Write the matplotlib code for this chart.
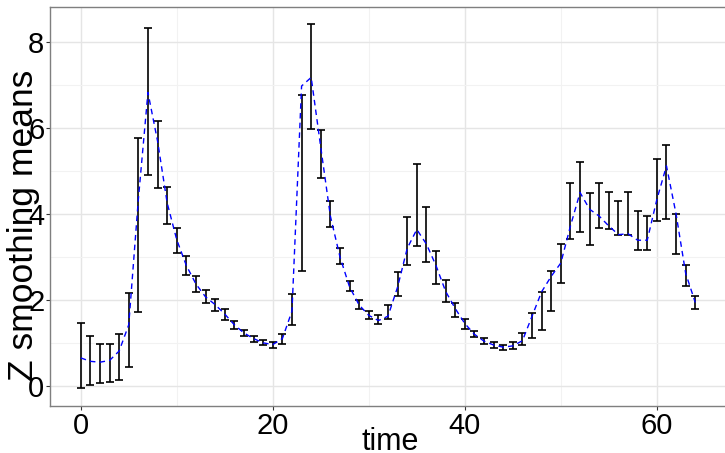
import numpy as np
import matplotlib.pyplot as plt

plt.rcParams['font.family'] = ['Liberation Sans', 'DejaVu Sans']

# time points
time = list(range(65))

# upper / lower ends of the error bars
upper = [1.46, 1.15, 0.97, 0.97, 1.21, 2.16, 5.77, 8.32, 6.16, 4.63,
         3.68, 3.03, 2.55, 2.22, 2.03, 1.80, 1.52, 1.31, 1.17, 1.07,
         1.03, 1.21, 2.13, 6.78, 8.42, 5.96, 4.30, 3.21, 2.43, 1.99,
         1.74, 1.65, 1.88, 2.64, 3.94, 5.16, 4.16, 3.15, 2.46, 1.93,
         1.56, 1.28, 1.11, 1.02, 0.96, 1.01, 1.23, 1.70, 2.18, 2.67,
         3.31, 4.73, 5.20, 4.50, 4.73, 4.52, 4.30, 4.52, 4.07, 3.95,
         5.29, 5.60, 4.01, 2.81, 2.08]
lower = [-0.05, 0.01, 0.06, 0.09, 0.14, 0.43, 1.73, 4.90, 4.60, 3.76,
         3.10, 2.58, 2.19, 1.93, 1.75, 1.54, 1.32, 1.15, 1.03, 0.94,
         0.89, 0.97, 1.42, 2.68, 5.99, 4.85, 3.69, 2.84, 2.21, 1.80,
         1.56, 1.44, 1.56, 2.10, 2.82, 3.25, 2.89, 2.37, 1.95, 1.60,
         1.32, 1.13, 0.97, 0.88, 0.84, 0.86, 0.96, 1.11, 1.29, 1.75,
         2.39, 3.41, 3.58, 3.27, 3.67, 3.66, 3.52, 3.52, 3.17, 3.16,
         3.83, 3.89, 3.08, 2.33, 1.80]

# smoothed means (dashed line)
smooth = [0.65, 0.57, 0.55, 0.59, 0.81, 1.42, 4.34, 6.83, 5.70, 4.26,
          3.40, 2.80, 2.37, 2.07, 1.89, 1.67, 1.42, 1.23, 1.10, 1.00,
          0.96, 1.10, 1.74, 6.98, 7.18, 5.55, 3.95, 3.00, 2.30, 1.88,
          1.64, 1.52, 1.62, 2.30, 3.20, 3.64, 3.30, 2.80, 2.20, 1.80,
          1.45, 1.20, 1.04, 0.95, 0.90, 0.93, 1.05, 1.62, 2.19, 2.55,
          2.86, 3.72, 4.50, 4.11, 3.95, 3.72, 3.52, 3.54, 3.39, 3.39,
          4.34, 5.12, 4.00, 2.62, 1.94]

t = np.array(time)
up = np.array(upper)
lo = np.array(lower)
mid = (up + lo) / 2

fig = plt.figure(figsize=(7.25, 4.53), dpi=100)
ax = fig.add_axes([50 / 725, 47 / 453, 676 / 725, 399 / 453])

ax.errorbar(t, mid, yerr=[mid - lo, up - mid], fmt='none', ecolor='black',
            elinewidth=1.2, capsize=2.8, capthick=1.2, zorder=3)
ax.plot(t, smooth, color='blue', linestyle=(0, (4, 3)), linewidth=1.0, zorder=4)

ax.set_xlim(-3.2, 67.2)
ax.set_ylim(-0.47, 8.82)
ax.set_xticks([0, 20, 40, 60])
ax.set_yticks([0, 2, 4, 6, 8])
ax.set_xticks([10, 30, 50], minor=True)
ax.set_yticks([1, 3, 5, 7], minor=True)
ax.grid(which='major', color='#e5e5e5', linewidth=1.0)
ax.grid(which='minor', color='#f2f2f2', linewidth=0.8)
ax.set_axisbelow(True)
ax.tick_params(which='minor', length=0)
ax.tick_params(which='major', length=3, width=0.8, color='#333333',
               labelsize=21, labelcolor='black', pad=1)
for s in ax.spines.values():
    s.set_color('#7f7f7f')
    s.set_linewidth(1.0)
ax.spines['right'].set_visible(False)

ax.set_xlabel('time', fontsize=22)
ax.xaxis.label.set_va('baseline')
ax.xaxis.set_label_coords(0.503, -0.1103)

ax.set_ylabel('Z smoothing means', fontsize=25.5)
ax.yaxis.set_label_coords(-0.0148, 0.4536)

fig.savefig('out.png', dpi=100)
